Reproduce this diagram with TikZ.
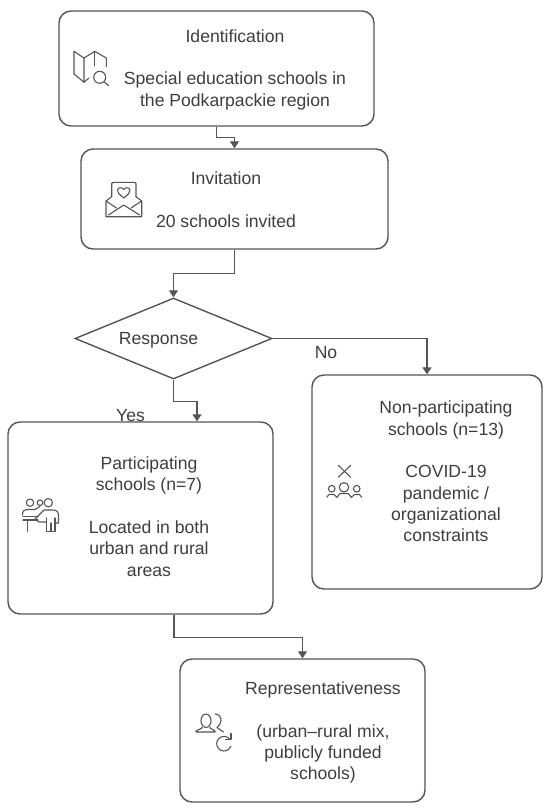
\documentclass[tikz,border=0pt]{standalone}
\usepackage{fontspec}
\setmainfont{Liberation Sans}
\usetikzlibrary{arrows.meta}
\usetikzlibrary{shapes.geometric}
\definecolor{inkline}{HTML}{555555}
\definecolor{inktext}{HTML}{3E3E3E}
\tikzset{
    flowbox/.style={
           rectangle,
           rounded corners=12pt,
           draw=inkline, line width=1.4pt,
           inner sep=0pt,
           },
    boxtext/.style={
           text=inktext,
           font=\fontsize{17.6}{21.3}\selectfont,
           align=center,
           inner sep=0pt,
           },
    iconline/.style={
           draw=inkline, line width=1.1pt,
           line join=round, line cap=round,
           },
    mapicon/.pic={
           \draw[iconline] (6,30) -- (6,7.3) -- (16,14) -- (26.7,7.3) -- (38.3,14) -- (38.3,22.7);
           \draw[iconline] (26.7,7.3) -- (26.7,22);
           \draw[iconline] (16,14) -- (16,38.3) -- (6,30);
           \draw[iconline] (16,38.3) -- (21,34);
           \draw[iconline] (31.7,33.3) circle (6pt);
           \draw[iconline] (36,37.7) -- (40.7,41.7);
    },
    mailicon/.pic={
           \draw[iconline] (11.7,21.7) -- (11.7,8.5) -- (13,7.3) -- (35,7.3) -- (36,8.5) -- (36,21.7);
           \draw[iconline] (11.7,21.7) -- (6,26) -- (6,41.7) -- (41.7,41.7) -- (41.7,26) -- (36,21.7);
           \draw[iconline] (6,26) -- (16.5,33);
           \draw[iconline] (41.7,26) -- (31,33);
           \draw[iconline] (8.5,40) -- (23.7,30) -- (39.5,40);
           \draw[iconline] (23.7,23) .. controls (19,19) and (17,17.5) .. (17.5,15)
              .. controls (18,12) and (22,12) .. (23.7,14.5)
              .. controls (25.5,12) and (29.5,12) .. (30,15)
              .. controls (30.5,17.5) and (28.5,19) .. (23.7,23);
    },
    teachicon/.pic={
           \draw[iconline] (15,12.7) circle (3.7pt);
           \draw[iconline] (25,12.7) circle (2.8pt);
           \draw[iconline] (33.3,12.7) circle (4.2pt);
           \draw[iconline] (7.5,25) .. controls (7.5,21) and (9,19.5) .. (12,19.5) -- (20,19.5) -- (25,16.5);
           \draw[iconline] (8,26.5) -- (23,26.5);
           \draw[iconline] (8,30) -- (23,30);
           \draw[iconline] (12.5,30) -- (12.5,41.5);
           \draw[iconline] (31.5,32) -- (24,32) -- (20,29) -- (29,20) -- (38,20)
              .. controls (42,20) and (43.5,22) .. (43.5,26) -- (43.5,33) -- (40,33);
           \draw[iconline] (31.5,28) -- (31.5,41.5) -- (40,41.5) -- (40,28);
           \draw[iconline] (36,33) -- (36,41.5);
    },
    absenticon/.pic={
           \draw[iconline] (18.3,7.3) -- (30.7,19.3);
           \draw[iconline] (30.7,7.3) -- (18.3,19.3);
           \draw[iconline] (24,29.3) circle (4.7pt);
           \draw[iconline] (11.7,30.7) circle (3.3pt);
           \draw[iconline] (36.7,30.7) circle (3.3pt);
           \draw[iconline] (6.7,39.3) -- (9,36.5) -- (14,36.5) -- (17,39.3) -- (20,35.5) -- (28,35.5) -- (31.5,39.3) -- (34.5,36.5) -- (39.5,36.5) -- (41.7,39.3);
    },
    groupicon/.pic={
           \draw[iconline] (16,12.7) ellipse (5pt and 6.7pt);
           \draw[iconline] (12,19) -- (12,20) -- (6,23) -- (6,24) -- (25,24) -- (25,23) -- (20,20) -- (20,19);
           \draw[iconline] (25,6) .. controls (29,6) and (31,9) .. (31,12.5)
              .. controls (31,15) and (29.5,17.5) .. (27,19.5) -- (33.5,24);
           \draw[iconline] (39.6,31) arc[start angle=40, end angle=340, radius=7.3pt];
           \draw[iconline] (41,25.5) -- (41,31.5) -- (35.5,31.5);
    },
}

\begin{document}
\begin{tikzpicture}[x=1pt,y=-1pt,>={Triangle[length=7pt,width=9pt]}]

 \useasboundingbox (0,0) rectangle (550,812);

 % Boxes, each placed from the one above it
 \node[flowbox, minimum width=315pt, minimum height=115pt] (IDENT) at (216.5,68.5) {};

 \node[flowbox, minimum width=307pt, minimum height=100pt,
  below of=IDENT, node distance=130.5pt, xshift=18pt] (INVITE) {};

 \node[draw=inkline, line width=1.4pt, diamond, inner sep=0pt,
  minimum width=197pt, minimum height=81pt,
  below of=INVITE, node distance=139.5pt, xshift=-61pt] (RESP) {};

 \node[flowbox, minimum width=265pt, minimum height=192pt,
  below of=RESP, node distance=179.5pt, xshift=-33pt] (PART) {};

 \node[flowbox, minimum width=230pt, minimum height=214pt,
  below of=RESP, node distance=143.5pt, xshift=253.5pt] (NONPART) {};

 \node[flowbox, minimum width=245pt, minimum height=143pt,
  below of=PART, node distance=212.5pt, xshift=162pt] (REPR) {};

 % Text of the boxes
 \node[boxtext] (IDENTTXT) at ([xshift=18.5pt,yshift=-1pt]IDENT.center)
 {Identification\\[21.3pt]Special education schools in\\the Podkarpackie region};
 \node[boxtext] (INVITETXT) at ([xshift=-8.5pt,yshift=-1pt]INVITE.center)
 {Invitation\\[21.3pt]20 schools invited};
 \node[boxtext] (RESPTXT) at ([xshift=-15pt,yshift=-1.5pt]RESP.center) {Response};
 \node[boxtext] (PARTTXT) at ([xshift=8.5pt,yshift=1.5pt]PART.center)
 {Participating\\schools (n=7)\\[21.3pt]Located in both\\urban and rural\\areas};
 \node[boxtext] (NONPARTTXT) at ([xshift=19pt,yshift=10.5pt]NONPART.center)
 {Non-participating\\schools (n=13)\\[21.3pt]COVID-19\\pandemic /\\organizational\\constraints};
 \node[boxtext] (REPRTXT) at ([xshift=20.5pt,yshift=-2pt]REPR.center)
 {Representativeness\\[21.3pt](urban--rural mix,\\publicly funded\\schools)};

 % Icons
 \pic at (68,44) {mapicon};
 \pic at (100,175) {mailicon};
 \pic at (15,490) {teachicon};
 \pic at (320,458) {absenticon};
 \pic at (190,708) {groupicon};

 % draw the connectors
 \draw[->, draw=inkline, line width=1.3pt] (IDENT.south) -- ++(0,11) -| (INVITE.north);
 \draw[->, draw=inkline, line width=1.3pt] (INVITE.south) -- ++(0,24) -| (RESP.north);
 \draw[->, draw=inkline, line width=1.3pt] (RESP.south) -- ++(0,22)
  node[boxtext, xshift=-43pt, yshift=-14pt] (YES) {Yes} -| ([xshift=56.5pt]PART.north);
 \draw[->, draw=inkline, line width=1.3pt] (RESP.east) -| (NONPART.north)
  node[boxtext, xshift=-101pt, yshift=22pt] (NO) {No};
 \draw[->, draw=inkline, line width=1.3pt] ([xshift=33.5pt]PART.south) -- ++(0,23) -| (REPR.north);

\end{tikzpicture}
\end{document}
